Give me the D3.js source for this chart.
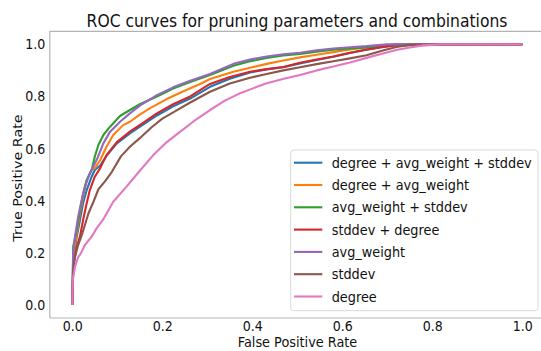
<!DOCTYPE html>
<html>
<head>
<meta charset="utf-8">
<script src="https://cdn.jsdelivr.net/npm/d3@7"></script>
<style>
  body { margin: 0; background: #fff; }
  svg text { font-family: "DejaVu Sans", sans-serif; fill: #111; }
</style>
</head>
<body>
<div id="chart"></div>
<script>
const labels = [
  "degree + avg_weight + stddev",
  "degree + avg_weight",
  "avg_weight + stddev",
  "stddev + degree",
  "avg_weight",
  "stddev",
  "degree"
];
const colors = ["#1f77b4", "#ff7f0e", "#2ca02c", "#d62728", "#9467bd", "#8c564b", "#e377c2"];

// false positive rate / true positive rate per curve
const fprAll = [0, 0.002, 0.004, 0.01, 0.017, 0.024, 0.032, 0.043, 0.05, 0.062, 0.076, 0.099, 0.128, 0.158, 0.188, 0.224, 0.262, 0.306, 0.35, 0.395, 0.432, 0.469, 0.506, 0.543, 0.58, 0.617, 0.654, 0.69, 0.72, 1.0];
const tprAll = [0, 0.15, 0.198, 0.262, 0.326, 0.39, 0.441, 0.492, 0.518, 0.535, 0.572, 0.62, 0.658, 0.693, 0.727, 0.762, 0.792, 0.837, 0.868, 0.892, 0.904, 0.912, 0.927, 0.94, 0.952, 0.967, 0.979, 0.99, 0.997, 1.0];

const fprDegAvg = [0, 0.002, 0.004, 0.01, 0.017, 0.024, 0.032, 0.043, 0.05, 0.062, 0.076, 0.091, 0.113, 0.128, 0.15, 0.173, 0.21, 0.247, 0.284, 0.306, 0.358, 0.395, 0.432, 0.469, 0.506, 0.543, 0.58, 0.617, 0.654, 0.69, 0.73, 1.0];
const tprDegAvg = [0, 0.15, 0.211, 0.275, 0.352, 0.415, 0.479, 0.518, 0.525, 0.556, 0.607, 0.652, 0.69, 0.703, 0.73, 0.755, 0.79, 0.82, 0.848, 0.867, 0.895, 0.91, 0.925, 0.938, 0.95, 0.96, 0.97, 0.98, 0.988, 0.995, 1.0, 1.0];

const fprAvgStd = [0, 0.002, 0.01, 0.017, 0.024, 0.032, 0.043, 0.05, 0.058, 0.069, 0.084, 0.106, 0.128, 0.15, 0.188, 0.224, 0.262, 0.306, 0.358, 0.395, 0.432, 0.469, 0.506, 0.543, 0.58, 0.617, 0.654, 0.7, 0.72, 1.0];
const tprAvgStd = [0, 0.224, 0.288, 0.364, 0.428, 0.479, 0.518, 0.569, 0.614, 0.652, 0.684, 0.725, 0.748, 0.77, 0.8, 0.83, 0.855, 0.882, 0.918, 0.935, 0.948, 0.957, 0.963, 0.972, 0.979, 0.984, 0.988, 0.996, 1.0, 1.0];

const fprStdDeg = [0, 0.002, 0.01, 0.017, 0.024, 0.032, 0.039, 0.05, 0.062, 0.076, 0.099, 0.128, 0.158, 0.188, 0.224, 0.262, 0.306, 0.35, 0.395, 0.432, 0.469, 0.506, 0.543, 0.58, 0.617, 0.654, 0.69, 0.72, 1.0];
const tprStdDeg = [0, 0.147, 0.224, 0.262, 0.326, 0.39, 0.441, 0.492, 0.525, 0.575, 0.625, 0.665, 0.7, 0.735, 0.77, 0.8, 0.848, 0.875, 0.895, 0.905, 0.913, 0.929, 0.942, 0.953, 0.968, 0.98, 0.99, 0.997, 1.0];

const fprAvg = [0, 0.001, 0.002, 0.006, 0.013, 0.021, 0.028, 0.039, 0.054, 0.069, 0.084, 0.106, 0.128, 0.15, 0.188, 0.224, 0.262, 0.306, 0.358, 0.395, 0.432, 0.469, 0.506, 0.543, 0.58, 0.617, 0.654, 0.7, 1.0];
const tprAvg = [0, 0.1, 0.198, 0.262, 0.339, 0.403, 0.454, 0.505, 0.556, 0.62, 0.665, 0.703, 0.735, 0.765, 0.805, 0.835, 0.86, 0.886, 0.925, 0.942, 0.953, 0.962, 0.968, 0.977, 0.984, 0.989, 0.993, 1.0, 1.0];

const fprStd = [0, 0.002, 0.006, 0.013, 0.021, 0.028, 0.036, 0.047, 0.058, 0.073, 0.088, 0.108, 0.128, 0.15, 0.175, 0.2, 0.23, 0.26, 0.306, 0.35, 0.395, 0.432, 0.469, 0.506, 0.543, 0.58, 0.617, 0.654, 0.69, 0.72, 0.75, 1.0];
const tprStd = [0, 0.134, 0.185, 0.23, 0.268, 0.307, 0.352, 0.396, 0.444, 0.475, 0.511, 0.57, 0.607, 0.64, 0.68, 0.715, 0.745, 0.775, 0.818, 0.85, 0.872, 0.886, 0.9, 0.912, 0.924, 0.935, 0.946, 0.958, 0.976, 0.99, 0.998, 1.0];

const fprDeg = [0, 0.001, 0.006, 0.013, 0.019, 0.028, 0.043, 0.054, 0.069, 0.091, 0.121, 0.15, 0.18, 0.21, 0.24, 0.27, 0.306, 0.34, 0.37, 0.4, 0.43, 0.47, 0.506, 0.543, 0.58, 0.617, 0.654, 0.69, 0.72, 0.75, 0.78, 0.817, 1.0];
const tprDeg = [0, 0.096, 0.147, 0.183, 0.198, 0.23, 0.262, 0.294, 0.329, 0.396, 0.455, 0.515, 0.575, 0.625, 0.665, 0.705, 0.748, 0.785, 0.81, 0.83, 0.85, 0.868, 0.882, 0.9, 0.915, 0.93, 0.948, 0.965, 0.978, 0.988, 0.996, 1.0, 1.0];

const xTicks = [0, 0.2, 0.4, 0.6, 0.8, 1.0];
const yTicks = [0, 0.2, 0.4, 0.6, 0.8, 1.0];

const fprList = [fprAll, fprDegAvg, fprAvgStd, fprStdDeg, fprAvg, fprStd, fprDeg];
const tprList = [tprAll, tprDegAvg, tprAvgStd, tprStdDeg, tprAvg, tprStd, tprDeg];

const series = labels.map((name, i) => ({
  name,
  color: colors[i],
  values: fprList[i].map((f, j) => ({ fpr: f, tpr: tprList[i][j] }))
}));

const W = 541, H = 351;
const squeeze = 0.9; // the picture is a little narrower than tall, text too

const svg = d3.select("#chart").append("svg")
  .attr("width", W).attr("height", H);

const x = d3.scaleLinear().domain([-0.05, 1.05]).range([49.8, 544.8]);
const y = d3.scaleLinear().domain([-0.05, 1.05]).range([318, 31.3]);

// frame
const spine = "#b3b3b3";
svg.append("line").attr("x1", x(-0.05)).attr("x2", x(1.05)).attr("y1", y(1.05)).attr("y2", y(1.05))
  .attr("stroke", spine).attr("stroke-width", 1.2);
svg.append("line").attr("x1", x(-0.05)).attr("x2", x(1.05)).attr("y1", y(-0.05)).attr("y2", y(-0.05))
  .attr("stroke", spine).attr("stroke-width", 1.2);
svg.append("line").attr("x1", x(-0.05)).attr("x2", x(-0.05)).attr("y1", y(-0.05)).attr("y2", y(1.05))
  .attr("stroke", spine).attr("stroke-width", 1.2);

// axes (no tick marks, labels only)
const xAxis = svg.append("g")
  .attr("transform", `translate(0,${y(-0.05)})`)
  .call(d3.axisBottom(x).tickValues(xTicks).tickFormat(d3.format(".1f")).tickSize(0).tickPadding(3));
const yAxis = svg.append("g")
  .attr("transform", `translate(${x(-0.05)},0)`)
  .call(d3.axisLeft(y).tickValues(yTicks).tickFormat(d3.format(".1f")).tickSize(0).tickPadding(5));
[xAxis, yAxis].forEach(a => {
  a.select(".domain").remove();
  a.selectAll("text")
    .style("font-family", "DejaVu Sans")
    .style("font-size", "14px")
    .attr("fill", "#111")
    .attr("transform", `scale(${squeeze},1)`);
});

// curves
const line = d3.line()
  .x(d => x(d.fpr))
  .y(d => y(d.tpr));

svg.append("g").selectAll("path")
  .data(series)
  .join("path")
  .attr("fill", "none")
  .attr("stroke", d => d.color)
  .attr("stroke-width", 2.1)
  .attr("stroke-linejoin", "round")
  .attr("d", d => line(d.values));

// title and axis labels
svg.append("text")
  .attr("transform", `translate(297,27) scale(${squeeze},1)`)
  .attr("text-anchor", "middle")
  .style("font-size", "17.3px")
  .text("ROC curves for pruning parameters and combinations");

svg.append("text")
  .attr("transform", `translate(297.5,347) scale(${squeeze},1)`)
  .attr("text-anchor", "middle")
  .style("font-size", "14.3px")
  .text("False Positive Rate");

svg.append("text")
  .attr("transform", `translate(22,178) rotate(-90) scale(1,${squeeze})`)
  .attr("text-anchor", "middle")
  .style("font-size", "14.3px")
  .text("True Positive Rate");

// legend
const legend = svg.append("g").attr("transform", "translate(290.7,150)");
legend.append("rect")
  .attr("width", 247.3).attr("height", 160.7)
  .attr("rx", 3).attr("ry", 3)
  .attr("fill", "#fff").attr("fill-opacity", 0.85)
  .attr("stroke", "#d9d9d9").attr("stroke-width", 1);

series.forEach((s, i) => {
  const g = legend.append("g").attr("transform", `translate(0,${12.7 + i * 22.3})`);
  g.append("line")
    .attr("x1", 3.3).attr("x2", 31.6)
    .attr("stroke", s.color).attr("stroke-width", 2.1);
  g.append("text")
    .attr("transform", `translate(41,5) scale(${squeeze},1)`)
    .style("font-size", "14.3px")
    .text(s.name);
});
</script>
</body>
</html>
